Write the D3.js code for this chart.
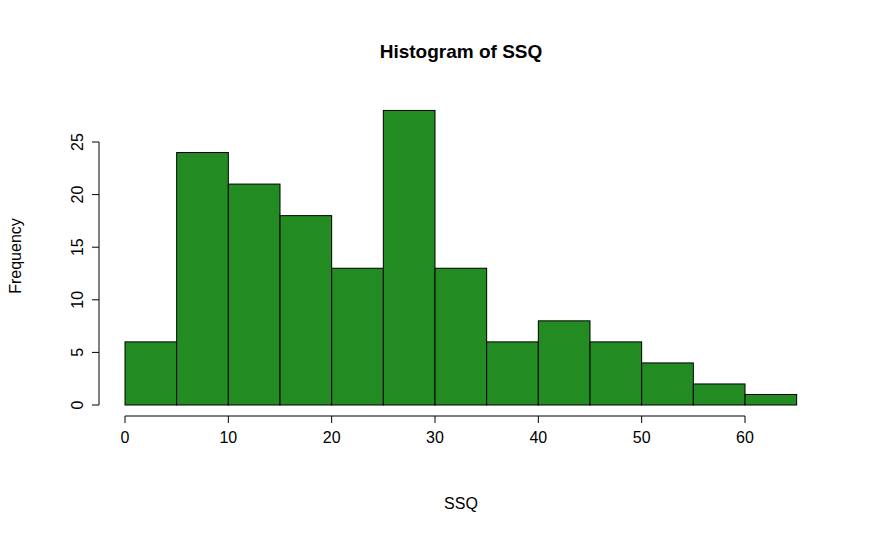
<!DOCTYPE html>
<html><head><meta charset="utf-8">
<script src="https://cdn.jsdelivr.net/npm/d3@7"></script>
<style>body{margin:0;background:#fff}text{font-family:"Liberation Sans",Arial,sans-serif}</style>
</head><body>
<script>
// histogram data: bin edges and counts
var binStarts = [0,5,10,15,20,25,30,35,40,45,50,55,60];
var binWidth = 5;
var counts = [6,24,21,18,13,28,13,6,8,6,4,2,1];
var xTicks = [0,10,20,30,40,50,60];
var yTicks = [0,5,10,15,20,25];

var svg = d3.select("body").append("svg").attr("width",875).attr("height",540);

var x = d3.scaleLinear().domain([0,60]).range([125,745]);
var y = d3.scaleLinear().domain([0,25]).range([405,142]);

svg.selectAll("rect").data(counts).enter().append("rect")
  .attr("x", function(d,i){ return x(binStarts[i]); })
  .attr("y", function(d){ return y(d); })
  .attr("width", function(d,i){ return x(binStarts[i]+binWidth)-x(binStarts[i]); })
  .attr("height", function(d){ return y(0)-y(d); })
  .style("fill","#228B22").style("stroke","#000").style("stroke-width",1);

// x axis
var xa = svg.append("g").attr("transform","translate(0,416)");
xa.append("line").attr("x1",x(0)).attr("x2",x(60)).attr("stroke","#000");
xTicks.forEach(function(t){
  xa.append("line").attr("x1",x(t)).attr("x2",x(t)).attr("y2",7).attr("stroke","#000");
  xa.append("text").attr("x",x(t)).attr("y",27).attr("text-anchor","middle").style("font-size","16px").text(t);
});

// y axis
var ya = svg.append("g").attr("transform","translate(99,0)");
ya.append("line").attr("y1",y(0)).attr("y2",y(25)).attr("stroke","#000");
yTicks.forEach(function(t){
  ya.append("line").attr("y1",y(t)).attr("y2",y(t)).attr("x2",-7).attr("stroke","#000");
  ya.append("text").attr("transform","translate(-22,"+y(t)+") rotate(-90)")
    .attr("text-anchor","middle").attr("dy","0.35em").style("font-size","16px").text(t);
});

svg.append("text").attr("x",461).attr("y",58).attr("text-anchor","middle")
  .style("font-size","19px").style("font-weight","bold").text("Histogram of SSQ");
svg.append("text").attr("x",461).attr("y",509).attr("text-anchor","middle")
  .style("font-size","16px").text("SSQ");
svg.append("text").attr("transform","translate(21,256) rotate(-90)").attr("text-anchor","middle")
  .style("font-size","16px").text("Frequency");
</script>
</body></html>
